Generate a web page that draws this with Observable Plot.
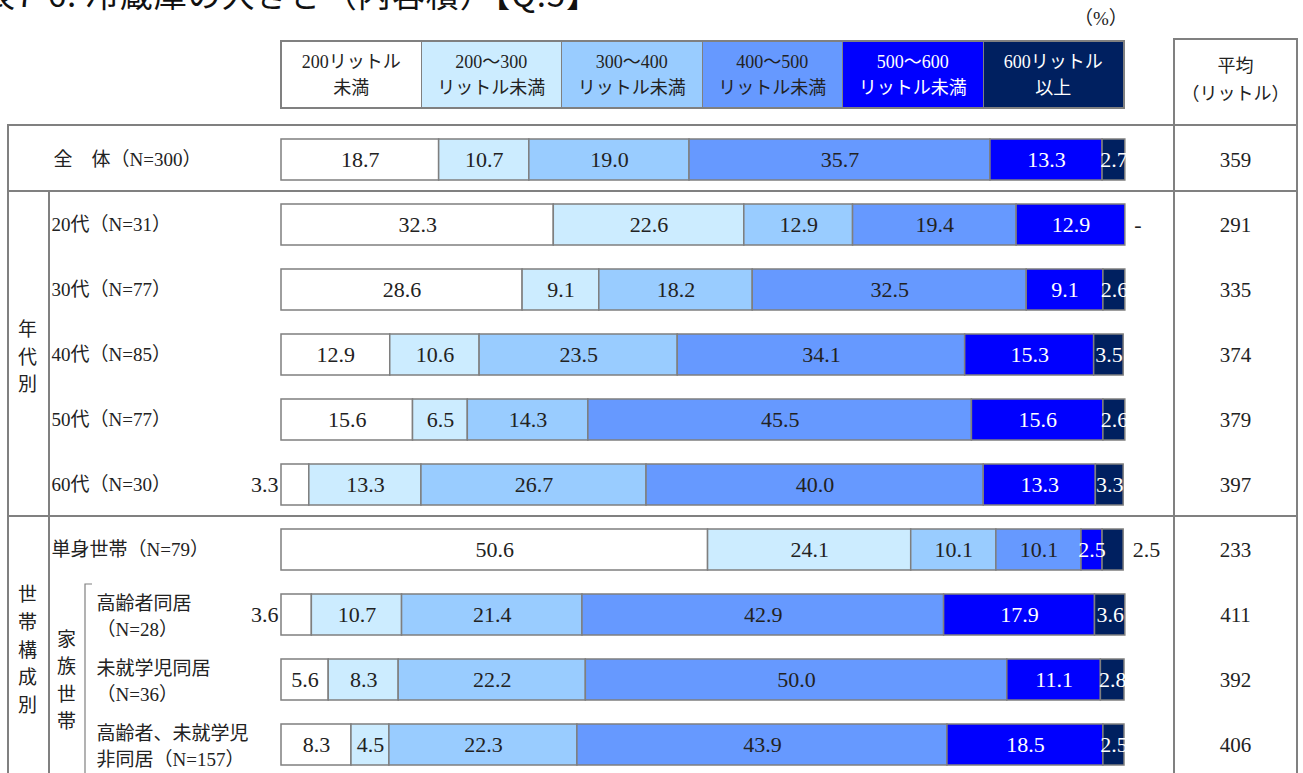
<!DOCTYPE html>
<html>
<head>
<meta charset="utf-8">
<script src="https://cdn.jsdelivr.net/npm/d3@7"></script>
<script src="https://cdn.jsdelivr.net/npm/@observablehq/plot@0.6"></script>
<style>
  html, body { margin: 0; padding: 0; background: #fff; overflow: hidden; }
  #wrap { position: relative; width: 1303px; }
  #header { position: relative; width: 1303px; height: 115px; overflow: hidden;
    font-family: "Liberation Serif", "Noto Sans CJK JP", serif; color: #222; }
  .box { position: absolute; box-sizing: border-box; border-top: 2px solid #808080;
    border-bottom: 2px solid #808080; border-right: 2px solid #808080;
    display: flex; flex-direction: column; align-items: center; justify-content: center;
    font-size: 18px; line-height: 26px; white-space: nowrap; }
  svg { display: block; }
</style>
</head>
<body>
<div id="wrap">
  <div id="header"></div>
  <div id="chart"></div>
</div>
<script>
const FONT = "'Liberation Serif', 'Noto Sans CJK JP', serif";
const titleText = "図表7-6. 冷蔵庫の大きさ（内容積）【Q.5】";
const unitText = "（%）";
const avgHeader = ["平均", "（リットル）"];

const categories = ["200リットル未満", "200～300リットル未満", "300～400リットル未満", "400～500リットル未満", "500～600リットル未満", "600リットル以上"];
const legendLabels = [["200リットル", "未満"], ["200～300", "リットル未満"], ["300～400", "リットル未満"], ["400～500", "リットル未満"], ["500～600", "リットル未満"], ["600リットル", "以上"]];
const colors = ["#FFFFFF", "#CCECFF", "#99CCFF", "#6699FF", "#0000FF", "#002060"];

const rows = ["全体", "20代", "30代", "40代", "50代", "60代", "単身世帯", "高齢者同居", "未就学児同居", "高齢者、未就学児非同居"];
const rowLabels = ["全　体（N=300）", "20代（N=31）", "30代（N=77）", "40代（N=85）", "50代（N=77）", "60代（N=30）", "単身世帯（N=79）", "高齢者同居\n（N=28）", "未就学児同居\n（N=36）", "高齢者、未就学児\n非同居（N=157）"];
const rowGroup = ["total", "age", "age", "age", "age", "age", "single", "family", "family", "family"];

const under200 = [18.7, 32.3, 28.6, 12.9, 15.6, 3.3, 50.6, 3.6, 5.6, 8.3];
const l200to300 = [10.7, 22.6, 9.1, 10.6, 6.5, 13.3, 24.1, 10.7, 8.3, 4.5];
const l300to400 = [19.0, 12.9, 18.2, 23.5, 14.3, 26.7, 10.1, 21.4, 22.2, 22.3];
const l400to500 = [35.7, 19.4, 32.5, 34.1, 45.5, 40.0, 10.1, 42.9, 50.0, 43.9];
const l500to600 = [13.3, 12.9, 9.1, 15.3, 15.6, 13.3, 2.5, 17.9, 11.1, 18.5];
const over600 = [2.7, 0, 2.6, 3.5, 2.6, 3.3, 2.5, 3.6, 2.8, 2.5];
const averages = [359, 291, 335, 374, 379, 397, 233, 411, 392, 406];

const series = [under200, l200to300, l300to400, l400to500, l500to600, over600];

const table = rows.flatMap((r, ri) => series.map((vals, ci) => ({row: r, ri, cat: categories[ci], ci, value: vals[ri]})));

function place(d) {
  if (d.value === 0) return "right";
  if (d.ci === 0 && d.value < 5) return "left";
  if (d.ci === 5 && series[4][d.ri] < 5) return "right";
  return "inside";
}
const fmt = (d) => d.value === 0 ? "-" : d.value.toFixed(1);

const H = 658;
const step = 65.5;
const yStart = 9.75;
const LABEL_SIZE = 22;

const plot = Plot.plot({
  width: 1303,
  height: H,
  marginLeft: 8,
  marginRight: 6,
  marginTop: 0,
  marginBottom: 0,
  style: {fontFamily: FONT, background: "#fff", color: "#222"},
  x: {domain: [0, 100], range: [281, 1124], axis: null},
  y: {domain: rows, range: [yStart, yStart + step * rows.length], paddingInner: 0.37, paddingOuter: 0.185, axis: null},
  color: {domain: categories, range: colors},
  marks: [
    Plot.barX(table, Plot.stackX({x: "value", y: "row", fill: "cat", stroke: "#7f7f7f", strokeWidth: 1.5})),
    Plot.text(table, Plot.stackX({x: "value", y: "row", z: "cat",
      text: d => (place(d) === "inside" && d.ci < 4) ? fmt(d) : null,
      fill: "#222", fontSize: LABEL_SIZE})),
    Plot.text(table, Plot.stackX({x: "value", y: "row", z: "cat",
      text: d => (place(d) === "inside" && d.ci >= 4) ? fmt(d) : null,
      fill: "#fff", fontSize: LABEL_SIZE})),
    Plot.text(table, Plot.stackX1({x: "value", y: "row", z: "cat",
      text: d => place(d) === "left" ? fmt(d) : null,
      fill: "#222", fontSize: LABEL_SIZE, textAnchor: "end", dx: -3})),
    Plot.text(table, Plot.stackX2({x: "value", y: "row", z: "cat",
      text: d => place(d) === "right" ? fmt(d) : null,
      fill: "#222", fontSize: LABEL_SIZE, textAnchor: "start", dx: 9})),
    // row labels
    Plot.text(rows, {filter: (d, i) => rowGroup[i] === "total", y: d => d, text: d => rowLabels[rows.indexOf(d)],
      frameAnchor: "left", textAnchor: "start", dx: 45, fontSize: 19, fill: "#222"}),
    Plot.text(rows, {filter: (d, i) => rowGroup[i] === "age" || rowGroup[i] === "single", y: d => d, text: d => rowLabels[rows.indexOf(d)],
      frameAnchor: "left", textAnchor: "start", dx: 43, fontSize: 19, fill: "#222"}),
    Plot.text(rows, {filter: (d, i) => rowGroup[i] === "family", y: d => d, text: d => rowLabels[rows.indexOf(d)],
      frameAnchor: "left", textAnchor: "start", dx: 88, fontSize: 19, lineHeight: 1.37, fill: "#222"}),
    // averages
    Plot.text(rows, {y: d => d, text: d => String(averages[rows.indexOf(d)]),
      frameAnchor: "right", textAnchor: "middle", dx: -62, fontSize: 21, fill: "#222"}),
    // group labels (vertical)
    Plot.text(["40代"], {y: d => d, text: ["年\n代\n別"], frameAnchor: "left", textAnchor: "middle", dx: 19,
      fontSize: 19, lineHeight: 1.45, fill: "#222", fontFamily: "Noto Sans CJK JP"}),
    Plot.text(["高齢者同居"], {y: d => d, text: ["世\n帯\n構\n成\n別"], frameAnchor: "left", textAnchor: "middle", dx: 19, dy: step / 2,
      fontSize: 19, lineHeight: 1.45, fill: "#222", fontFamily: "Noto Sans CJK JP"}),
    Plot.text(["未就学児同居"], {y: d => d, text: ["家\n族\n世\n帯"], frameAnchor: "left", textAnchor: "middle", dx: 58, dy: -2,
      fontSize: 19, lineHeight: 1.45, fill: "#222", fontFamily: "Noto Sans CJK JP"})
  ]
});

document.getElementById("chart").appendChild(plot);

// table structure lines
const ys = plot.scale("y");
const xs = plot.scale("x");
const gap = ys.step - ys.bandwidth;
const bandTop = r => ys.apply(r) - gap / 2;
const g = d3.select(plot).append("g").attr("stroke", "#808080").attr("stroke-width", 2).attr("fill", "none");
const L = 8, R = 1297, AVG = 1174, INNER = 49;
[bandTop(rows[0]) - 2, bandTop(rows[1]) - 1, bandTop(rows[6]) - 1].forEach(y => {
  g.append("line").attr("x1", L).attr("x2", R).attr("y1", y).attr("y2", y);
});
g.append("line").attr("x1", L).attr("x2", L).attr("y1", bandTop(rows[0]) - 3).attr("y2", H);
g.append("line").attr("x1", INNER).attr("x2", INNER).attr("y1", bandTop(rows[1]) - 1).attr("y2", H);
g.append("line").attr("x1", AVG).attr("x2", AVG).attr("y1", 0).attr("y2", H);
g.append("line").attr("x1", R).attr("x2", R).attr("y1", 0).attr("y2", H);
g.append("path").attr("stroke-width", 1.2)
  .attr("d", `M92,${ys.apply(rows[7]) - 10}H85V${H}`);

// header (title, unit, legend boxes, average header)
const header = document.getElementById("header");
const title = document.createElement("div");
title.textContent = titleText;
Object.assign(title.style, {position: "absolute", left: "-52px", top: "-23px", fontSize: "33px", lineHeight: "33px",
  fontFamily: "'Noto Sans CJK JP', sans-serif", color: "#111", whiteSpace: "nowrap", letterSpacing: "1px"});
header.appendChild(title);

const unit = document.createElement("div");
unit.textContent = unitText;
Object.assign(unit.style, {position: "absolute", left: "1074px", top: "7px", fontSize: "19px", lineHeight: "24px"});
header.appendChild(unit);

categories.forEach((c, i) => {
  const x0 = xs.apply(i * 100 / categories.length);
  const x1 = xs.apply((i + 1) * 100 / categories.length);
  const b = document.createElement("div");
  b.className = "box";
  Object.assign(b.style, {left: (x0 - (i === 0 ? 1 : 0)) + "px", top: "40px", width: (x1 - x0 + 1 + (i === 0 ? 1 : 0)) + "px", height: "69px",
    background: colors[i], color: i >= 4 ? "#fff" : "#222", borderLeft: i === 0 ? "2px solid #808080" : "none"});
  legendLabels[i].forEach(t => { const s = document.createElement("div"); s.textContent = t; b.appendChild(s); });
  header.appendChild(b);
});

const avgBox = document.createElement("div");
Object.assign(avgBox.style, {position: "absolute", left: (AVG - 1) + "px", top: "38px", width: (R - AVG + 2) + "px", height: "80px",
  boxSizing: "border-box", borderTop: "2px solid #808080", borderLeft: "2px solid #808080", borderRight: "2px solid #808080",
  display: "flex", flexDirection: "column", alignItems: "center", paddingTop: "12px", fontSize: "18px", lineHeight: "28px"});
avgHeader.forEach(t => { const s = document.createElement("div"); s.textContent = t; avgBox.appendChild(s); });
header.appendChild(avgBox);
</script>
</body>
</html>
